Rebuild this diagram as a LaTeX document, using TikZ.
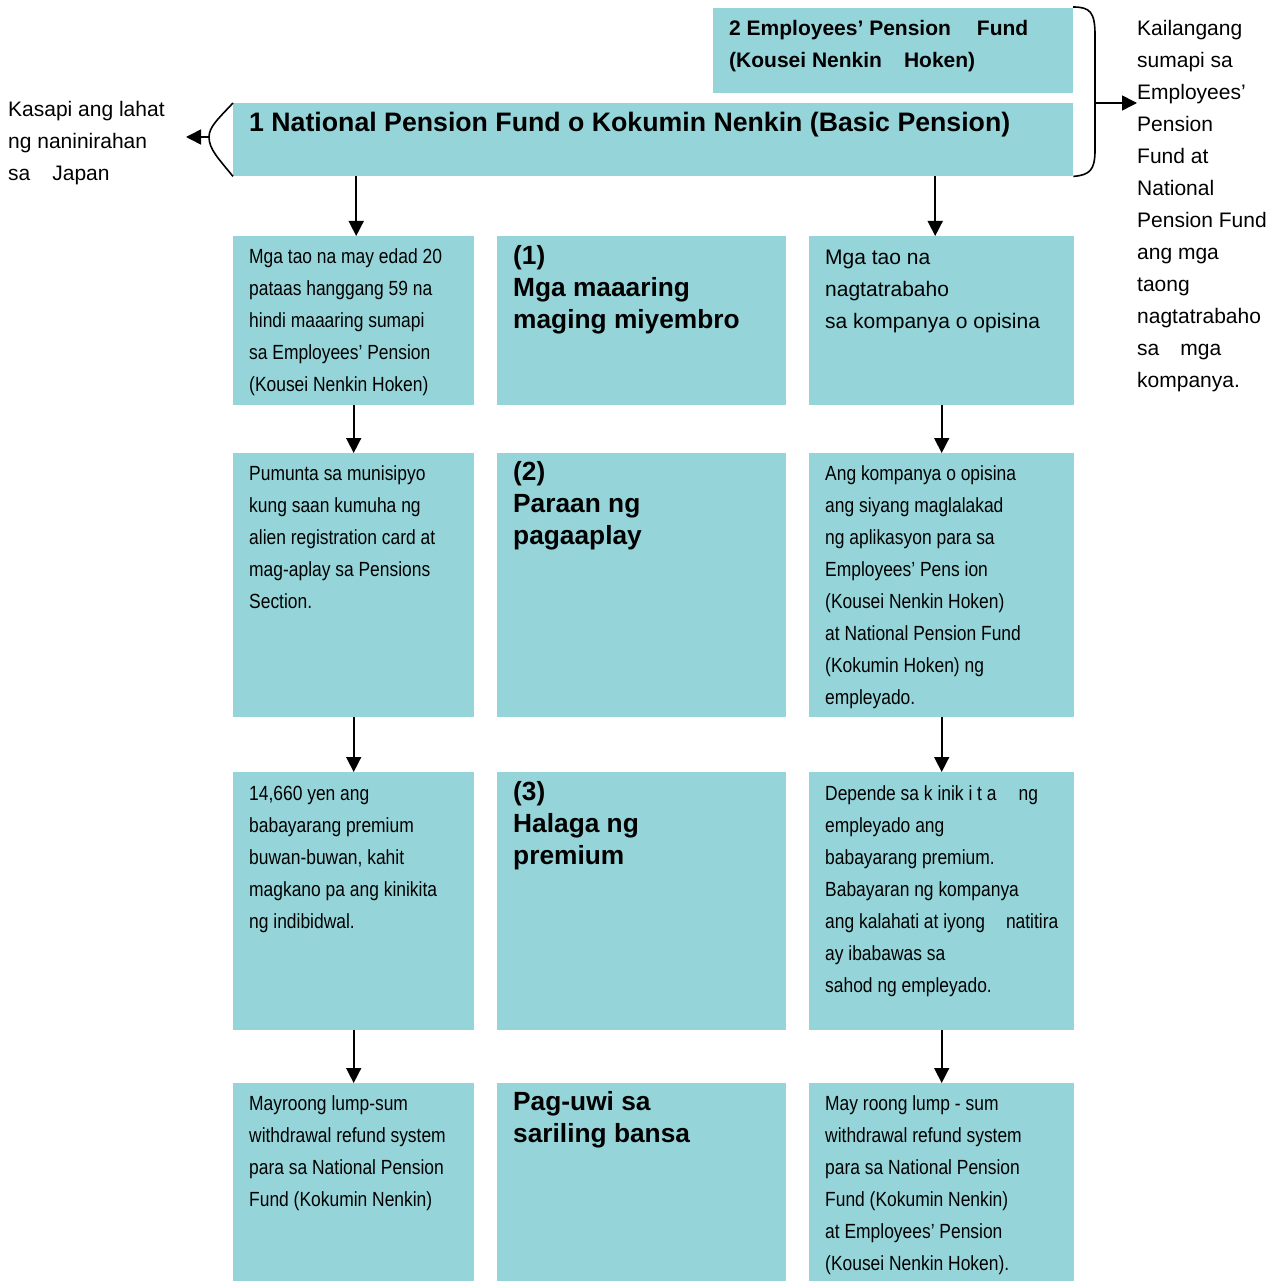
\documentclass[tikz,border=0pt]{standalone}
\usepackage{fontspec}
\setmainfont{Liberation Sans}
\newfontfamily\nfont[FakeStretch=0.85]{Liberation Sans}
\usetikzlibrary{arrows.meta,calc}
\definecolor{boxc}{RGB}{149,213,218}
\newcommand{\fl}{\rule{0pt}{24pt}}
\begin{document}
\begin{tikzpicture}[x=1pt,y=-1pt,
 box/.style={rectangle, fill=boxc, draw=none, inner sep=0pt, anchor=north west},
 arr/.style={line width=1.6pt, -{Triangle[length=15pt,width=15pt]}},
 brc/.style={line width=1.6pt},
 nt/.style={anchor=north west, inner sep=0pt, align=left, font=\nfont\fontsize{20.5}{32}\selectfont},
 rt/.style={anchor=north west, inner sep=0pt, align=left, font=\fontsize{21}{32}\selectfont},
 bt/.style={anchor=north west, inner sep=0pt, align=left, font=\bfseries\fontsize{21}{32}\selectfont},
 hd/.style={anchor=north west, inner sep=0pt, align=left, font=\bfseries\fontsize{26.3}{32}\selectfont},
 tt/.style={anchor=north west, inner sep=0pt, align=left, font=\bfseries\fontsize{26.7}{32}\selectfont},
]
\useasboundingbox (0,0) rectangle (1283,1281);

% top boxes
\node[box, minimum width=360pt, minimum height=85pt] (emp) at (713,8) {};
\node[box, minimum width=840pt, minimum height=73pt] (nat) at (233,103) {};
\node[bt] (empt) at (729,11) {\fl 2 Employees’ Pension\hspace{26pt}Fund\\(Kousei Nenkin\hspace{22pt}Hoken)};
\node[tt] (natt) at (249,107) {\fl 1 National Pension Fund o Kokumin Nenkin (Basic Pension)};

% grid boxes
\node[box, minimum width=241pt, minimum height=169pt] (l1) at (233,236) {};
\node[box, minimum width=289pt, minimum height=169pt] (m1) at (497,236) {};
\node[box, minimum width=265pt, minimum height=169pt] (r1) at (809,236) {};
\node[box, minimum width=241pt, minimum height=264pt] (l2) at (233,453) {};
\node[box, minimum width=289pt, minimum height=264pt] (m2) at (497,453) {};
\node[box, minimum width=265pt, minimum height=264pt] (r2) at (809,453) {};
\node[box, minimum width=241pt, minimum height=258pt] (l3) at (233,772) {};
\node[box, minimum width=289pt, minimum height=258pt] (m3) at (497,772) {};
\node[box, minimum width=265pt, minimum height=258pt] (r3) at (809,772) {};
\node[box, minimum width=241pt, minimum height=198pt] (l4) at (233,1083) {};
\node[box, minimum width=289pt, minimum height=198pt] (m4) at (497,1083) {};
\node[box, minimum width=265pt, minimum height=198pt] (r4) at (809,1083) {};

% texts row 1
\node[nt] (l1t) at (249,239) {\fl Mga tao na may edad 20\\pataas hanggang 59 na\\hindi maaaring sumapi\\sa Employees’ Pension\\(Kousei Nenkin Hoken)};
\node[hd] (m1t) at (513,240) {\fl (1)\\Mga maaaring\\maging miyembro};
\node[rt] (r1t) at (825,240) {\fl Mga tao na\\nagtatrabaho\\sa kompanya o opisina};
% row 2
\node[nt] (l2t) at (249,456) {\fl Pumunta sa munisipyo\\kung saan kumuha ng\\alien registration card at\\mag-aplay sa Pensions\\Section.};
\node[hd] (m2t) at (513,456) {\fl (2)\\Paraan ng\\pagaaplay};
\node[nt] (r2t) at (825,456) {\fl Ang kompanya o opisina\\ang siyang maglalakad\\ng aplikasyon para sa\\Employees’ Pens ion\\(Kousei Nenkin Hoken)\\at National Pension Fund\\(Kokumin Hoken) ng\\empleyado.};
% row 3
\node[nt] (l3t) at (249,776) {\fl 14,660 yen ang\\babayarang premium\\buwan-buwan, kahit\\magkano pa ang kinikita\\ng indibidwal.};
\node[hd] (m3t) at (513,776) {\fl (3)\\Halaga ng\\premium};
\node[nt] (r3t) at (825,776) {\fl Depende sa k inik i t a\hspace{22pt}ng\\empleyado ang\\babayarang premium.\\Babayaran ng kompanya\\ang kalahati at iyong\hspace{21pt}natitira\\ay ibabawas sa\\sahod ng empleyado.};
% row 4
\node[nt] (l4t) at (249,1086) {\fl Mayroong lump-sum\\withdrawal refund system\\para sa National Pension\\Fund (Kokumin Nenkin)};
\node[hd] (m4t) at (513,1086) {\fl Pag-uwi sa\\sariling bansa};
\node[nt] (r4t) at (825,1086) {\fl May roong lump - sum\\withdrawal refund system\\para sa National Pension\\Fund (Kokumin Nenkin)\\at Employees’ Pension\\(Kousei Nenkin Hoken).};

% side texts
\node[rt] (lt) at (8,92) {\fl Kasapi ang lahat\\ng naninirahan\\sa\hspace{22pt}Japan};
\node[rt] (rtx) at (1137,11) {\fl Kailangang\\sumapi sa\\Employees’\\Pension\\Fund at\\National\\Pension Fund\\ang mga\\taong\\nagtatrabaho\\sa\hspace{21pt}mga\\kompanya.};

% braces
\coordinate (lb) at (209,137);
\coordinate (lbt) at (186,137);
\draw[brc] (nat.north west) .. controls (218,119) and (209,127) .. (lb) .. controls (209,149) and (218,158) .. (nat.south west);
\draw[arr] (lb) -- (lbt);
\coordinate (rb) at (1095,103);
\coordinate (rbt) at (1137,103);
\draw[brc] (1073,7) .. controls (1090,7) and (1095,12) .. (1095,35) -- (rb) -- (1095,150) .. controls (1095,170) and (1090,175) .. (nat.south east);
\draw[arr] (rb) -- (rbt);

% arrows
\draw[arr] ($(l1.north |- nat.south)+(2.5,0)$) -- ($(l1.north)+(2.5,0)$);
\draw[arr] ($(r1.north |- nat.south)+(-6.5,0)$) -- ($(r1.north)+(-6.5,0)$);
\draw[arr] (l1.south) -- (l2.north);
\draw[arr] (l2.south) -- (l3.north);
\draw[arr] (l3.south) -- (l4.north);
\draw[arr] (r1.south) -- (r2.north);
\draw[arr] (r2.south) -- (r3.north);
\draw[arr] (r3.south) -- (r4.north);
\end{tikzpicture}
\end{document}
